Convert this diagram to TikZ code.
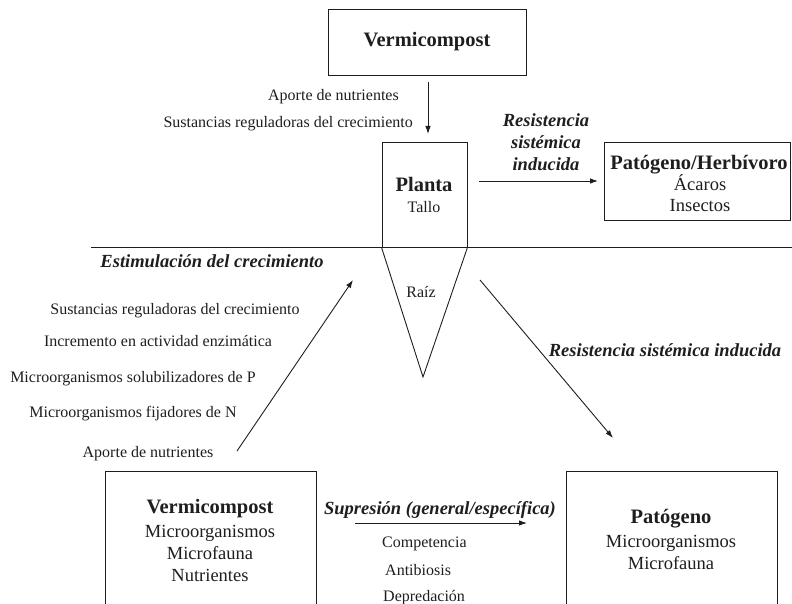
\documentclass[tikz,border=0pt]{standalone}
\usepackage{fontspec}
\setmainfont{Liberation Serif}
\usetikzlibrary{arrows.meta,calc}
\definecolor{ink}{HTML}{1E1E1E}
\begin{document}
\begin{tikzpicture}[x=1pt,y=-1pt,
  every node/.style={inner sep=0pt,text=ink},
  box/.style={draw=ink,line width=0.9pt,rectangle},
  small/.style={font=\fontsize{16}{19}\selectfont,text height=11pt,text depth=3pt},
  mid/.style={font=\fontsize{18.5}{22}\selectfont,text height=12.5pt,text depth=3.5pt},
  head/.style={font=\fontsize{20.5}{24}\selectfont\bfseries,text height=14pt,text depth=4pt},
  bit/.style={font=\fontsize{18.5}{22}\selectfont\bfseries\itshape,text height=12.5pt,text depth=3.5pt},
  line/.style={draw=ink,line width=0.9pt},
  arr/.style={draw=ink,line width=0.9pt,-{Latex[length=8pt,width=5.5pt]}}]
\useasboundingbox (0,0) rectangle (792,604);
\clip (0,0) rectangle (792,604);

% top vermicompost box
\node[box,minimum width=198pt,minimum height=66pt] (vc) at (427,42) {};
\node[head] (vct) at (427,42) {Vermicompost};

% planta (stem) box
\node[box,minimum width=85pt,minimum height=105pt] (planta) at (424.5,194.5) {};
\node[head] (plt) at (424,187) {Planta};
\node[small] (tallo) at (424,208) {Tallo};

% ground line
\coordinate (gl) at (91,247);
\coordinate (gr) at (792,247);
\draw[line] (gl) -- (gr);

% root triangle
\coordinate (apex) at (423,377);
\draw[line] (planta.south west) -- (apex) -- (planta.south east);
\node[small] (raiz) at (421,293) {Raíz};

% arrow vermicompost -> planta
\coordinate (a1s) at (428,82);
\coordinate (a1e) at (428,134);
\draw[arr] (a1s) -- (a1e);
\node[small,anchor=east] (ap1) at (399,97) {Aporte de nutrientes};
\node[small,anchor=east] (sr1) at (413,124) {Sustancias reguladoras del crecimiento};

% arrow planta -> patogeno/herbivoro
\node[box,minimum width=186pt,minimum height=78pt] (ph) at (697,181) {};
\node[head] (pht) at (699,165) {Patógeno/Herbívoro};
\node[mid] (acaros) at (700,186) {Ácaros};
\node[mid] (insectos) at (700,207) {Insectos};
\coordinate (a2s) at (479,181);
\coordinate (a2e) at (598,181);
\draw[arr] (a2s) -- (a2e);
\node[bit] (rs1) at (546,122) {Resistencia};
\node[bit] (rs2) at (546,144) {sistémica};
\node[bit] (rs3) at (546,166) {inducida};

% stimulation
\node[bit] (estim) at (212,263) {Estimulación del crecimiento};
\node[small] (l1) at (175,310) {Sustancias reguladoras del crecimiento};
\node[small] (l2) at (158,342) {Incremento en actividad enzimática};
\node[small] (l3) at (133,378) {Microorganismos solubilizadores de P};
\node[small] (l4) at (133,413) {Microorganismos fijadores de N};
\node[small] (l5) at (148,453) {Aporte de nutrientes};
\coordinate (a3s) at (237,451);
\coordinate (a3e) at (353,280);
\draw[arr] (a3s) -- (a3e);

% induced resistance (soil)
\coordinate (a4s) at (480,280);
\coordinate (a4e) at (613,438);
\draw[arr] (a4s) -- (a4e);
\node[bit] (rsi) at (665,352) {Resistencia sistémica inducida};

% bottom boxes
\node[box,minimum width=211pt,minimum height=160pt,anchor=north west] (vcb) at (105,471) {};
\node[head] (vcbt) at (210,508) {Vermicompost};
\node[mid] (m1) at (210,533) {Microorganismos};
\node[mid] (m2) at (210,555) {Microfauna};
\node[mid] (m3) at (210,577) {Nutrientes};

\node[box,minimum width=211pt,minimum height=160pt,anchor=north west] (pat) at (566,471) {};
\node[head] (patt) at (671,518) {Patógeno};
\node[mid] (p1) at (671,543) {Microorganismos};
\node[mid] (p2) at (671,565) {Microfauna};

\coordinate (a5s) at (355,523);
\coordinate (a5e) at (527,523);
\draw[arr] (a5s) -- (a5e);
\node[bit] (sup) at (440,510) {Supresión (general/específica)};
\node[small,anchor=west] (c1) at (382,543) {Competencia};
\node[small,anchor=west] (c2) at (385,571) {Antibiosis};
\node[small,anchor=west] (c3) at (383,597) {Depredación};
\end{tikzpicture}
\end{document}
